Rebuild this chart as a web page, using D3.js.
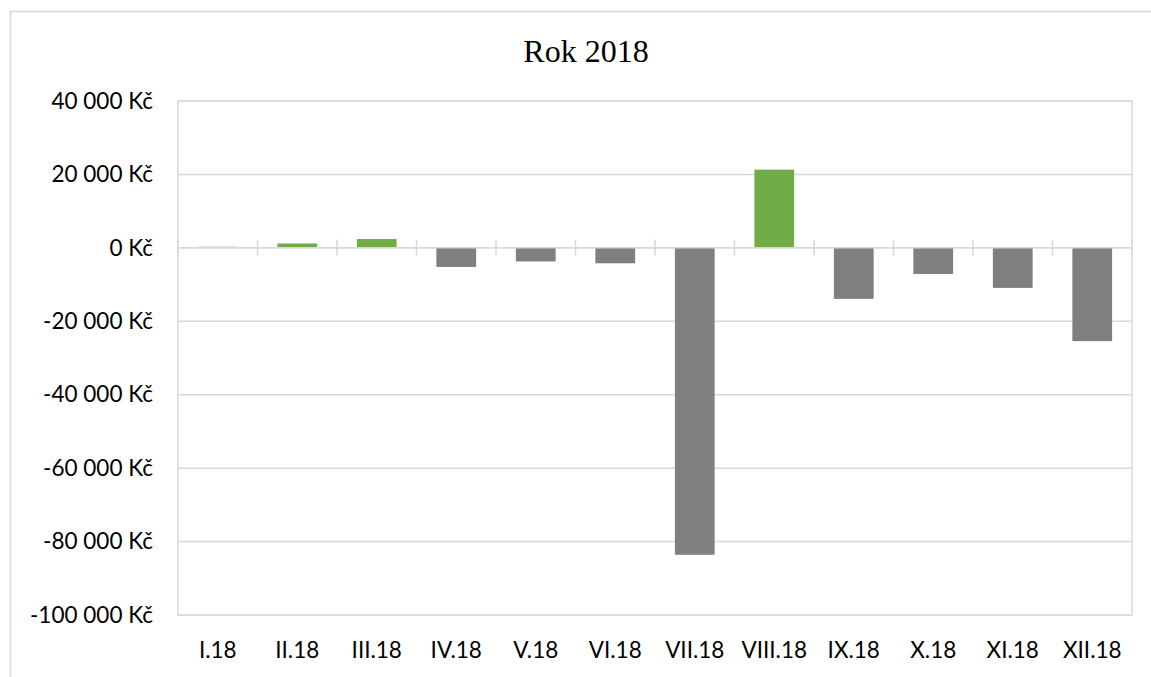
<!DOCTYPE html>
<html>
<head>
<meta charset="utf-8">
<script src="https://cdn.jsdelivr.net/npm/d3@7"></script>
<style>
  body { margin: 0; background: #fff; }
  svg { display: block; }
</style>
</head>
<body>
<svg width="1151" height="677"></svg>
<script>
// months of 2018 and monthly balance (Kč)
var months = ["I.18", "II.18", "III.18", "IV.18", "V.18", "VI.18",
              "VII.18", "VIII.18", "IX.18", "X.18", "XI.18", "XII.18"];
var balance = [300, 1200, 2400, -5200, -3700, -4200,
               -83600, 21300, -13900, -7100, -10900, -25400];
var yTicks = [-100000, -80000, -60000, -40000, -20000, 0, 20000, 40000];

var svg = d3.select("svg"),
    margin = {top: 101, right: 19, bottom: 62, left: 178},
    width = +svg.attr("width") - margin.left - margin.right,
    height = +svg.attr("height") - margin.top - margin.bottom;

// outer chart frame (runs off the picture on right and bottom)
svg.append("rect")
    .attr("x", 10.5).attr("y", 11.5)
    .attr("width", 1152).attr("height", 680)
    .attr("fill", "none")
    .attr("stroke", "#d9d9d9")
    .attr("stroke-width", 1.5);

svg.append("text")
    .text("Rok 2018")
    .attr("x", 586)
    .attr("y", 62)
    .attr("text-anchor", "middle")
    .style("font-family", "'Liberation Serif', 'Times New Roman', serif")
    .style("font-size", "32px")
    .attr("fill", "#000");

var g = svg.append("g").attr("transform", "translate(" + margin.left + "," + margin.top + ")");

var x = d3.scaleBand()
    .domain(months)
    .range([0, width])
    .paddingInner(0.5)
    .paddingOuter(0.25);

var y = d3.scaleLinear()
    .domain([-100000, 40000])
    .range([height, 0]);

var cz = d3.formatLocale({decimal: ",", thousands: "\u00a0", grouping: [3], currency: ["", " Kč"], minus: "-"});
var fmt = cz.format("$,");

// gridlines
g.append("g")
  .selectAll("line")
  .data(yTicks)
  .enter().append("line")
    .attr("x1", 0).attr("x2", width)
    .attr("y1", function(d) { return y(d); })
    .attr("y2", function(d) { return y(d); })
    .attr("stroke", "#d9d9d9")
    .attr("stroke-width", 1.5);

// plot area border
g.append("rect")
    .attr("x", 0).attr("y", 0)
    .attr("width", width).attr("height", height)
    .attr("fill", "none")
    .attr("stroke", "#d9d9d9")
    .attr("stroke-width", 1.5);

// y axis labels
var yAxis = g.append("g")
    .call(d3.axisLeft(y).tickValues(yTicks).tickSize(0).tickPadding(25).tickFormat(fmt));
yAxis.select(".domain").remove();
yAxis.selectAll("text")
    .style("font-family", "Lato, 'Open Sans', sans-serif")
    .style("font-size", "22.5px")
    .attr("fill", "#000");

// bars
g.append("g")
  .selectAll("rect")
  .data(balance)
  .enter().append("rect")
    .attr("x", function(d, i) { return x(months[i]); })
    .attr("y", function(d) { return y(Math.max(0, d)); })
    .attr("width", x.bandwidth())
    .attr("height", function(d) { return Math.abs(y(d) - y(0)); })
    .attr("fill", function(d) { return d >= 0 ? "#70ad47" : "#7f7f7f"; });

// category axis at zero with cross ticks
g.append("line")
    .attr("x1", 0).attr("x2", width)
    .attr("y1", y(0)).attr("y2", y(0))
    .attr("stroke", "#d9d9d9")
    .attr("stroke-width", 1.5);

g.append("g")
  .selectAll("line")
  .data(d3.range(months.length + 1))
  .enter().append("line")
    .attr("x1", function(i) { return i * x.step(); })
    .attr("x2", function(i) { return i * x.step(); })
    .attr("y1", y(0) - 8)
    .attr("y2", y(0) + 8)
    .attr("stroke", "#d9d9d9")
    .attr("stroke-width", 1.5);

// month labels under the plot
g.append("g")
  .selectAll("text")
  .data(months)
  .enter().append("text")
    .attr("x", function(d) { return x(d) + x.bandwidth() / 2; })
    .attr("y", height + 43)
    .attr("text-anchor", "middle")
    .style("font-family", "Lato, 'Open Sans', sans-serif")
    .style("font-size", "22.5px")
    .attr("fill", "#000")
    .text(function(d) { return d; });
</script>
</body>
</html>
